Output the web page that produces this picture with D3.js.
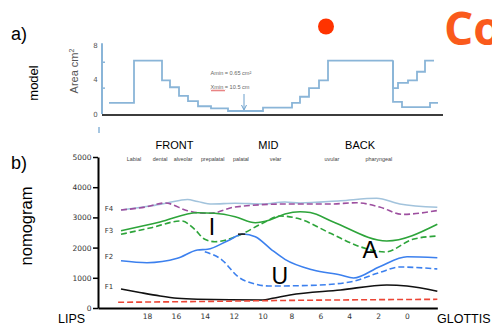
<!DOCTYPE html>
<html>
<head>
<meta charset="utf-8">
<script src="https://cdn.jsdelivr.net/npm/d3@7"></script>
<style>
  body { margin: 0; background: #fff; }
  svg { display: block; font-family: "Liberation Sans", Arial, sans-serif; }
</style>
</head>
<body>
<div id="chart"></div>
<script>
// ---------- panel a: area function of the tube (steps) ----------
const tubeEdges = [0.7, 3.2, 6.0, 6.8, 7.7, 8.6, 9.6, 10.9, 12.6, 16.1, 19.0, 19.8, 20.7, 21.7, 22.6, 29.1];
const tubeAreas = [1.3, 6.2, 3.9, 3.1, 2.1, 1.5, 0.9, 0.65, 0.35, 0.75, 1.3, 2.0, 3.0, 3.9, 6.2];
const upperEdges = [29.1, 29.6, 30.6, 31.5, 32.3, 33.2];
const upperAreas = [3.0, 3.6, 3.9, 4.9, 6.2];
const lowerEdges = [29.1, 30.0, 32.8, 33.6];
const lowerAreas = [1.4, 0.8, 1.3];
const areaTicks = [0, 4, 8];
const areaMarks = [3, 6];
const minNotes = ["Amin = 0.65 cm\u00b2", "Xmin = 10.5 cm"];
const xminAt = 14.2;

// ---------- panel b: nomogram ----------
const distTicks = [18, 16, 14, 12, 10, 8, 6, 4, 2, 0];
const freqTicks = [0, 1000, 2000, 3000, 4000, 5000];
const regions = ["FRONT", "MID", "BACK"];
const regionCm = [16.1, 9.6, 3.25];
const places = ["Labial", "dental", "alveolar", "prepalatal", "palatal", "velar", "uvular", "pharyngeal"];
const placeCm = [18.9, 17.1, 15.5, 13.45, 11.5, 9.1, 5.2, 1.95];
const formantNames = ["F4", "F3", "F2", "F1"];
const formantLabelHz = [3280, 2550, 1690, 700];
const vowels = ["I", "U", "A"];
const vowelCm = [13.5, 8.8, 2.55];
const vowelHz = [2420, 800, 1655];

// [distance from glottis (cm), frequency (Hz)]
const f4Solid = [[19.8,3245],[17.8,3377],[16.6,3477],[15.2,3592],[14.5,3526],[13.5,3443],[11.9,3467],[10.0,3443],[8.45,3510],[7.4,3477],[4.6,3553],[2.1,3632],[0.5,3443],[-2.1,3334]];
const f4Dash = [[19.8,3245],[18.1,3344],[16.75,3477],[15.2,3222],[14.5,3155],[13.6,3136],[11.9,3344],[8.45,3443],[5.3,3443],[3.5,3485],[1.9,3344],[0.3,3100],[-2.1,3228]];
const f3Solid = [[19.8,2559],[17.1,2847],[14.5,3155],[13.3,3136],[11.9,3023],[10.5,2824],[9.5,2914],[8.45,3112],[7.4,3188],[6.7,3160],[5.1,2847],[1.4,2218],[-2.1,2771]];
const f3Dash = [[19.8,2440],[17.8,2649],[15.6,2881],[14.7,2606],[14.0,2275],[13.3,2195],[11.7,2394],[10.0,2804],[8.8,3046],[7.6,2970],[5.3,2473],[3.25,2030],[1.5,1854],[-0.4,2275],[-2.1,2384]];
const f2Solid = [[19.8,1566],[18.0,1500],[15.9,1646],[14.5,1920],[13.8,1944],[12.4,2228],[11.35,2450],[10.5,2361],[9.35,1920],[8.45,1612],[6.5,1258],[4.6,1093],[3.7,993],[1.9,1367],[0,1699],[-2.1,1665]];
const f2Dash = [[14.0,1864],[12.8,1589],[11.7,1036],[10.5,795],[9.6,728],[6.9,745],[3.95,861],[1.9,1175],[0.5,1358],[-2.1,1291]];
const f1Solid = [[19.8,629],[18.5,513],[17.1,397],[15.9,321],[14.5,288],[10.0,265],[9.3,321],[8.1,430],[4.6,596],[1.4,762],[0,728],[-2.1,553]];
const f1Dash = [[20.0,189],[14.3,215],[8.8,248],[-2.1,288]];
const peakMark = [[11.7,2445],[11.2,2445]];

class NomogramVis {

    constructor(parentElement) {
        this.parentElement = parentElement;
        this.initVis();
    }

    initVis() {
        let vis = this;
        vis.width = 492;
        vis.height = 326;

        vis.svg = d3.select("#" + vis.parentElement).append("svg")
            .attr("width", vis.width)
            .attr("height", vis.height);

        vis.drawHeader();
        vis.drawModel();
        vis.drawNomogram();
    }

    drawHeader() {
        let vis = this;

        vis.svg.append("text").attr("x", 11).attr("y", 40)
            .attr("font-size", 18).text("a)");
        vis.svg.append("text").attr("x", 11).attr("y", 169)
            .attr("font-size", 18).text("b)");

        vis.svg.append("text")
            .attr("transform", "translate(38,83) rotate(-90)")
            .attr("text-anchor", "middle").attr("font-size", 13)
            .text("model");
        vis.svg.append("text")
            .attr("transform", "translate(32,226) rotate(-90)")
            .attr("text-anchor", "middle").attr("font-size", 16.5)
            .text("nomogram");

        // slide decoration in the top right (cut by the edge, as on the slide)
        vis.svg.append("circle").attr("cx", 326).attr("cy", 26.5).attr("r", 8)
            .attr("fill", "#ff3300");
        vis.svg.append("text").attr("x", 444).attr("y", 45)
            .attr("font-family", "'Open Sans', sans-serif")
            .attr("font-weight", 700).attr("font-size", 46)
            .attr("fill", "#fa5a1c").text("Co");
    }

    drawModel() {
        let vis = this;
        const blue = "#8ab5d8";

        vis.ua = d3.scaleLinear().domain([0, 34.1]).range([102, 443]);
        vis.ya = d3.scaleLinear().domain([0, 8]).range([114, 45]);

        const g = vis.svg.append("g");

        // axis title
        const t = g.append("text")
            .attr("transform", "translate(78,71) rotate(-90)")
            .attr("text-anchor", "middle").attr("font-size", 11).attr("fill", "#555");
        t.append("tspan").text("Area cm");
        t.append("tspan").attr("font-size", 7).attr("dy", -4).text("2");

        // blue vertical axis with labels
        g.append("line")
            .attr("x1", vis.ua(0)).attr("x2", vis.ua(0))
            .attr("y1", vis.ya(8.2)).attr("y2", vis.ya(0))
            .attr("stroke", blue).attr("stroke-width", 2);
        g.selectAll(".amark").data(areaMarks).enter().append("line")
            .attr("x1", vis.ua(0) - 1).attr("x2", vis.ua(0) + 3)
            .attr("y1", d => vis.ya(d)).attr("y2", d => vis.ya(d))
            .attr("stroke", blue).attr("stroke-width", 1.5);
        g.selectAll(".alab").data(areaTicks).enter().append("text")
            .attr("x", 95.5).attr("y", d => vis.ya(d) + 2.5)
            .attr("text-anchor", "middle")
            .attr("font-family", "'DejaVu Sans', sans-serif")
            .attr("font-size", 7).attr("fill", "#555")
            .text(d => d);

        // baseline
        g.append("line")
            .attr("x1", vis.ua(0)).attr("x2", vis.ua(34.1))
            .attr("y1", vis.ya(0) + 1).attr("y2", vis.ya(0) + 1)
            .attr("stroke", "#3c3c3c").attr("stroke-width", 2);
        g.append("line").attr("x1", 99).attr("x2", 99).attr("y1", 127).attr("y2", 133)
            .attr("stroke", blue).attr("stroke-width", 1.5);

        const stepLine = d3.line()
            .x(d => vis.ua(d[0]))
            .y(d => vis.ya(d[1]))
            .curve(d3.curveStepAfter);

        function steps(edges, areas, from) {
            const pts = edges.slice(0, -1).map((e, i) => [e, areas[i]]);
            pts.push([edges[edges.length - 1], areas[areas.length - 1]]);
            if (from != null) pts.unshift([edges[0], from]);
            return pts;
        }

        const last = tubeAreas[tubeAreas.length - 1];
        [steps(tubeEdges, tubeAreas), steps(upperEdges, upperAreas, last), steps(lowerEdges, lowerAreas, last)]
            .forEach(pts => {
                g.append("path").attr("d", stepLine(pts))
                    .attr("fill", "none").attr("stroke", blue).attr("stroke-width", 1.8);
            });

        // notes on the constriction
        g.selectAll(".note").data(minNotes).enter().append("text")
            .attr("x", 210.5).attr("y", (d, i) => 75 + i * 13.5)
            .attr("font-size", 5.6).attr("fill", "#666")
            .text(d => d);
        const squig = d3.range(0, 15).map(i => [211 + i, 90.5 + (i % 2 ? 0.8 : -0.8)]);
        g.append("path").attr("d", d3.line()(squig))
            .attr("fill", "none").attr("stroke", "#e05050").attr("stroke-width", 0.7);

        const ax = vis.ua(xminAt);
        g.append("line").attr("x1", ax).attr("x2", ax).attr("y1", 94).attr("y2", 109)
            .attr("stroke", "#6a9fcc").attr("stroke-width", 1);
        g.append("path").attr("d", `M${ax - 2.5},105 L${ax},110 L${ax + 2.5},105`)
            .attr("fill", "none").attr("stroke", "#6a9fcc").attr("stroke-width", 1);
    }

    drawNomogram() {
        let vis = this;

        vis.x = d3.scaleLinear().domain([18, 0]).range([147, 407]);
        vis.y = d3.scaleLinear().domain([0, 5000]).range([308, 157]);

        const g = vis.svg.append("g");
        const left = 98;
        const xFull = vis.x.copy().domain([vis.x.invert(left), -2.1]).range([left, vis.x(-2.1)]);

        // region headers and places of articulation
        g.selectAll(".region").data(regions).enter().append("text")
            .attr("x", (d, i) => vis.x(regionCm[i])).attr("y", 149)
            .attr("text-anchor", "middle").attr("font-size", 11)
            .text(d => d);
        g.selectAll(".place").data(places).enter().append("text")
            .attr("x", (d, i) => vis.x(placeCm[i])).attr("y", 161)
            .attr("text-anchor", "middle").attr("font-size", 5.4).attr("fill", "#444")
            .text(d => d);

        // axes
        const yAxis = g.append("g")
            .attr("transform", `translate(${left},0)`)
            .call(d3.axisLeft(vis.y).tickValues(freqTicks).tickFormat(d3.format("d"))
                .tickSize(5).tickSizeOuter(0).tickPadding(1.5));
        yAxis.select(".domain").attr("stroke-width", 2);
        yAxis.selectAll(".tick line").attr("stroke-width", 1.5);
        yAxis.selectAll("text")
            .attr("font-family", "'DejaVu Sans', sans-serif").attr("font-size", 7.5).attr("fill", "#333");

        const xAxis = g.append("g")
            .attr("transform", "translate(0,308)")
            .call(d3.axisBottom(xFull).tickValues(distTicks).tickFormat(d3.format("d"))
                .tickSize(0).tickPadding(6).tickSizeOuter(0));
        xAxis.select(".domain").attr("stroke-width", 2);
        xAxis.selectAll("text")
            .attr("font-family", "'DejaVu Sans', sans-serif").attr("font-size", 7.5).attr("fill", "#333");

        g.append("text").attr("x", 58).attr("y", 323).attr("font-size", 12.5).text("LIPS");
        g.append("text").attr("x", 437).attr("y", 323).attr("font-size", 12.5).text("GLOTTIS");

        // formant labels
        g.selectAll(".flab").data(formantNames).enter().append("text")
            .attr("x", 109).attr("y", (d, i) => vis.y(formantLabelHz[i]) + 2.5)
            .attr("text-anchor", "middle")
            .attr("font-family", "'DejaVu Sans', sans-serif")
            .attr("font-size", 7).attr("fill", "#333")
            .text(d => d);

        const line = d3.line()
            .x(d => vis.x(d[0]))
            .y(d => vis.y(d[1]))
            .curve(d3.curveMonotoneX);

        const series = [
            {data: f4Solid, color: "#a2c3dc", dash: null},
            {data: f4Dash, color: "#9d4f9f", dash: "6,3"},
            {data: f3Solid, color: "#2da43a", dash: null},
            {data: f3Dash, color: "#2da43a", dash: "6,3"},
            {data: f2Solid, color: "#3c80ee", dash: null},
            {data: f2Dash, color: "#3c80ee", dash: "6,3"},
            {data: f1Solid, color: "#111111", dash: null},
            {data: f1Dash, color: "#ec4535", dash: "6,3"},
            {data: peakMark, color: "#222222", dash: null}
        ];

        g.selectAll(".formant").data(series).enter().append("path")
            .attr("class", "formant")
            .attr("d", d => line(d.data))
            .attr("fill", "none")
            .attr("stroke", d => d.color)
            .attr("stroke-width", 1.6)
            .attr("stroke-dasharray", d => d.dash);

        // vowel letters
        g.selectAll(".vowel").data(vowels).enter().append("text")
            .attr("x", (d, i) => vis.x(vowelCm[i])).attr("y", (d, i) => vis.y(vowelHz[i]))
            .attr("text-anchor", "middle").attr("font-size", 23)
            .text(d => d);
    }
}

new NomogramVis("chart");
</script>
</body>
</html>
